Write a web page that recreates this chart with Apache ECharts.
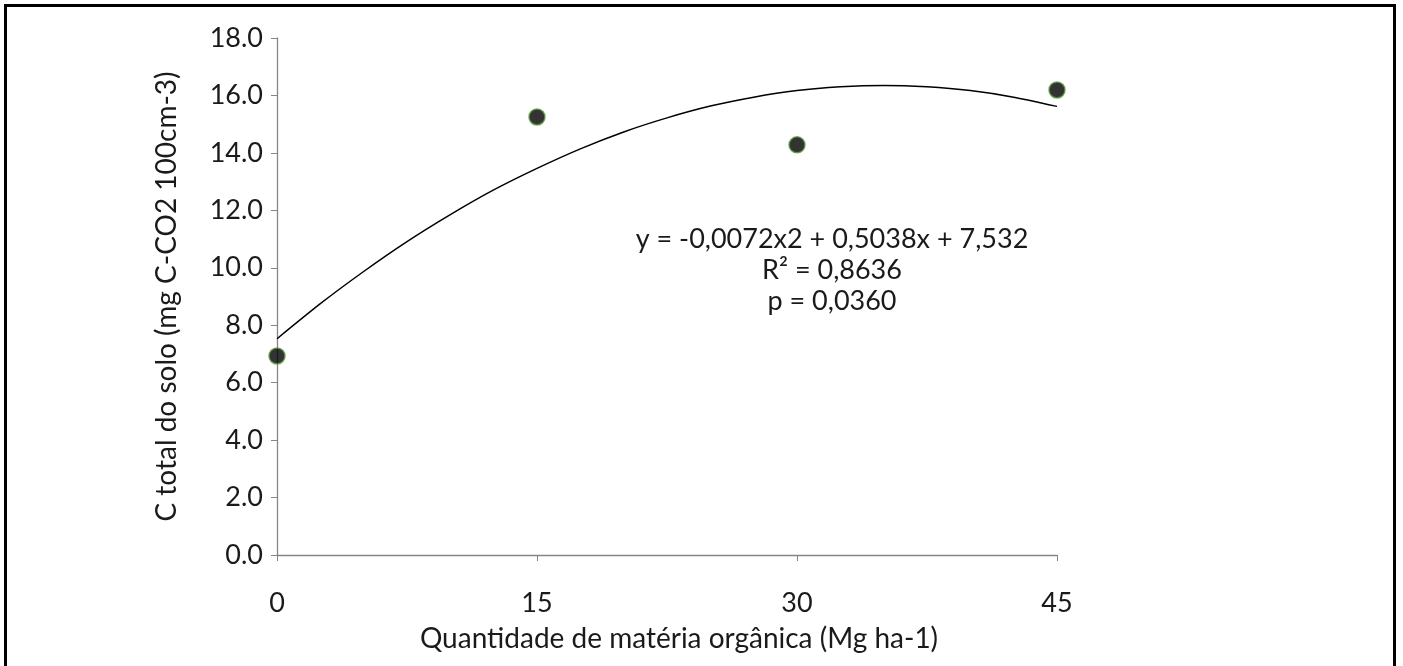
<!DOCTYPE html>
<html>
<head>
<meta charset="utf-8">
<script src="https://cdn.jsdelivr.net/npm/echarts@6/dist/echarts.min.js"></script>
<style>
  html, body { margin: 0; padding: 0; background: #fff; }
  #m1 { width: 1403px; height: 666px; }
  #frame { position: absolute; left: 4px; top: 4px; width: 1392px; height: 680px; border: 3px solid #000; box-sizing: border-box; pointer-events: none; }
</style>
</head>
<body>
<div id="m1"></div>
<div id="frame"></div>
<script>
// valores
var doses = [0, 15, 30, 45];
var carbono = [6.93, 15.25, 14.28, 16.19];

// linha de tendência (lida ponto a ponto da curva)
var curvaX = [0, 2.5, 5, 7.5, 10, 12.5, 15, 17.5, 20, 22.5, 25, 27.5, 30, 32.5, 35, 37.5, 40, 42.5, 45];
var curvaY = [7.53, 8.75, 9.87, 10.91, 11.85, 12.71, 13.46, 14.14, 14.73, 15.22, 15.63, 15.94, 16.17, 16.30, 16.35, 16.30, 16.17, 15.94, 15.62];

var equacao = ['y = -0,0072x2 + 0,5038x + 7,532', 'R² = 0,8636', 'p = 0,0360'];

var fonte = 'Lato';

function initChart() {
    var myChart = echarts.init(document.getElementById('m1'));

    var option = {
        animation: false,
        textStyle: { fontFamily: fonte },
        grid: { left: 277, right: 346, top: 38, bottom: 111 },
        xAxis: {
            type: 'value',
            min: 0,
            max: 45,
            interval: 15,
            name: 'Quantidade de matéria orgânica (Mg ha-1)',
            nameLocation: 'middle',
            nameGap: 70,
            nameTextStyle: { fontSize: 28, color: '#1a1a1a', fontFamily: fonte, padding: [0, 0, 0, 24] },
            axisLine: { lineStyle: { color: '#868686', width: 1.3 } },
            axisTick: { show: true, length: 6, lineStyle: { color: '#868686' } },
            axisLabel: { margin: 35, fontSize: 27, color: '#1a1a1a', fontFamily: fonte },
            splitLine: { show: false }
        },
        yAxis: {
            type: 'value',
            min: 0,
            max: 18,
            interval: 2,
            name: 'C total do solo (mg C-CO2 100cm-3)',
            nameLocation: 'middle',
            nameGap: 96,
            nameTextStyle: { fontSize: 28, color: '#1a1a1a', fontFamily: fonte },
            axisLine: { show: true, lineStyle: { color: '#868686', width: 1.3 } },
            axisTick: { show: true, length: 6, lineStyle: { color: '#868686' } },
            axisLabel: {
                margin: 14,
                fontSize: 27,
                color: '#1a1a1a',
                fontFamily: fonte,
                formatter: function (v) { return v.toFixed(1); }
            },
            splitLine: { show: false }
        },
        graphic: [{
            type: 'text',
            x: 832,
            y: 224,
            style: {
                text: equacao.join('\n'),
                align: 'center',
                verticalAlign: 'top',
                fontSize: 27,
                lineHeight: 31,
                fill: '#1a1a1a',
                fontFamily: fonte
            }
        }],
        series: [
            {
                name: 'tendencia',
                type: 'line',
                data: curvaX.map(function (x, i) { return [x, curvaY[i]]; }),
                smooth: 0.2,
                showSymbol: false,
                lineStyle: { color: '#000', width: 1.5 },
                z: 2
            },
            {
                name: 'C total',
                type: 'scatter',
                data: doses.map(function (x, i) { return [x, carbono[i]]; }),
                symbolSize: 16,
                itemStyle: { color: '#000', borderColor: '#5a9a3a', borderWidth: 1.5 },
                z: 3
            }
        ]
    };

    myChart.setOption(option);
    window.addEventListener('resize', function () {
        myChart.resize();
    });
}

initChart();
</script>
</body>
</html>
